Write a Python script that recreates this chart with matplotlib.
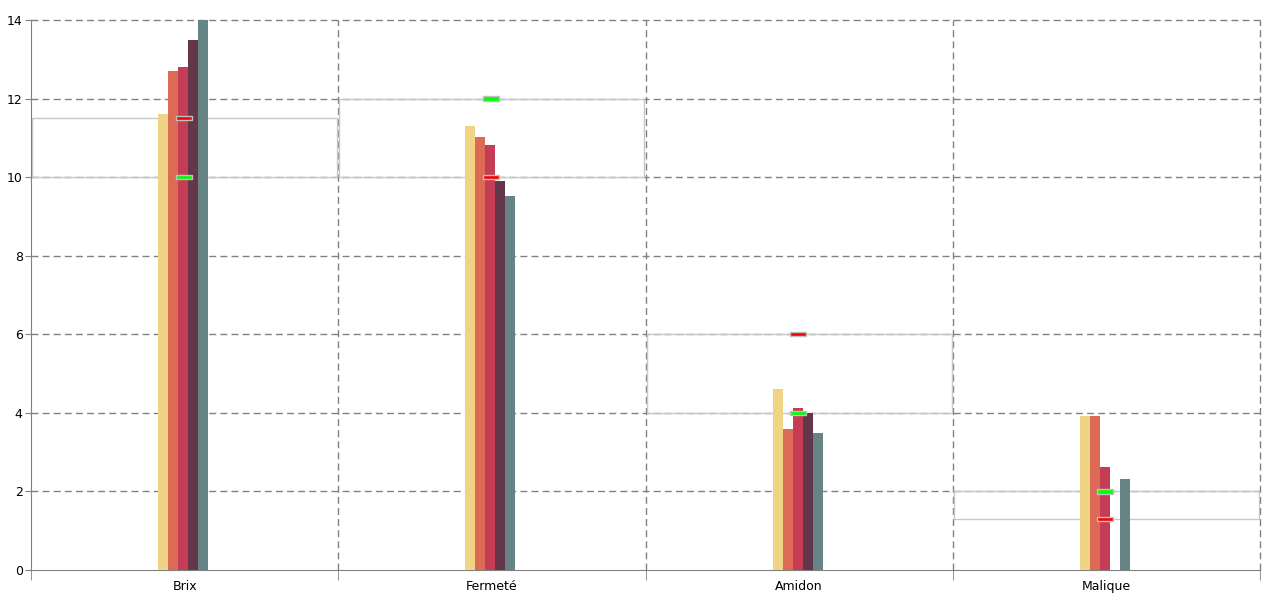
import numpy as np
import matplotlib
matplotlib.use("Agg")
import matplotlib.pyplot as plt
from matplotlib.patches import Rectangle

plt.rcParams['font.family'] = ['DejaVu Sans']

# data
categories = ['Brix', 'Fermeté', 'Amidon', 'Malique']
series = [
    [11.6, 11.3, 4.6, 3.92],   # yellow
    [12.7, 11.02, 3.6, 3.92],  # orange
    [12.8, 10.82, 4.12, 2.62], # crimson
    [13.5, 9.9, 4.0, 0.0],     # maroon
    [14.0, 9.52, 3.5, 2.32],   # teal
]
colors = ['#EED484', '#DD6A55', '#C43D55', '#633649', '#668385']
green_marks = [10.0, 12.0, 4.0, 2.0]
red_marks = [11.5, 10.0, 6.0, 1.3]
box_low = [10.0, 10.0, 4.0, 1.3]
box_high = [11.5, 12.0, 6.0, 2.0]

fig = plt.figure(figsize=(12.8, 6), dpi=100)
ax = fig.add_axes([31/1280, 30/600, 1229/1280, 550/600])

x = np.arange(len(categories))
px = 1/307.
bw = 10*px
n = len(series)
for i, vals in enumerate(series):
    ax.bar(x - 1.5*px + (i - (n-1)/2)*bw, vals, width=bw, color=colors[i], zorder=3)

# target boxes
for j in range(len(categories)):
    r = Rectangle((j - 0.5 + 0.004, box_low[j]), 1 - 0.008, box_high[j] - box_low[j],
                  fill=False, edgecolor='#C8C8C8', lw=1, zorder=2)
    ax.add_patch(r)

mh = 0.11
mw = 16*px
ax.bar(x - 1*px, [mh]*4, bottom=np.array(green_marks) - mh/2, width=mw, color='#00FF00',
       edgecolor='#C0C0C0', lw=1, zorder=4)
ax.bar(x - 1*px, [mh]*4, bottom=np.array(red_marks) - mh/2, width=mw, color='#FF0000',
       edgecolor='#C0C0C0', lw=1, zorder=4)

ax.set_xlim(-0.5, 3.5)
ax.set_ylim(0, 14)
ax.set_yticks(np.arange(0, 15, 2))
ax.set_xticks(x)
ax.set_xticklabels(categories)
ax.set_xticks(np.arange(-0.5, 4, 1), minor=True)
ax.tick_params(axis='x', which='major', length=0, labelsize=9, pad=7)
ax.tick_params(axis='x', which='minor', length=7, color='#808080')
ax.tick_params(axis='y', length=4, color='#808080', labelsize=9, pad=2)

for v in np.arange(2, 15, 2):
    ax.axhline(v, color='#808080', lw=1, ls=(0, (5, 3)), zorder=1, clip_on=False)
for v in np.arange(0.5, 4, 1):
    ax.axvline(v, color='#808080', lw=1, ls=(0, (5, 3)), zorder=1, clip_on=False)

for s in ['top', 'right']:
    ax.spines[s].set_visible(False)
for s in ['left', 'bottom']:
    ax.spines[s].set_color('#808080')

fig.savefig('out.png', dpi=100)
